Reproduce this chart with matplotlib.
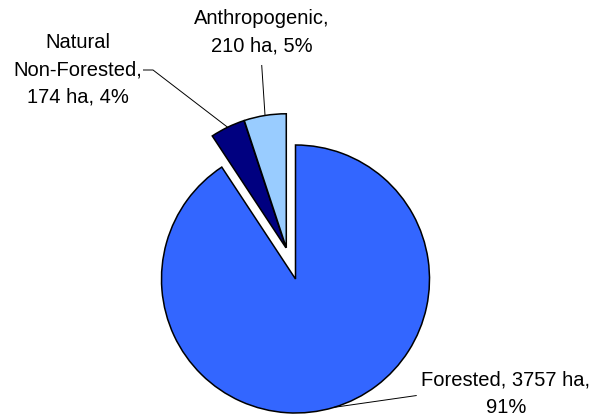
import numpy as np
import matplotlib
matplotlib.use("Agg")
import matplotlib.pyplot as plt

# Land cover areas (ha)
categories = ["Forested", "Natural Non-Forested", "Anthropogenic"]
areas_ha = [3757, 174, 210]
colors = ["#3366FF", "#000080", "#99CCFF"]

total = sum(areas_ha)
pcts = [round(100 * a / total) for a in areas_ha]
labels = [
    f"Forested, {areas_ha[0]} ha,\n{pcts[0]}%",
    f"Natural\nNon-Forested,\n{areas_ha[1]} ha, {pcts[1]}%",
    f"Anthropogenic,\n{areas_ha[2]} ha, {pcts[2]}%",
]

W, H, DPI = 594, 416, 100
fig = plt.figure(figsize=(W / DPI, H / DPI), dpi=DPI)
ax = fig.add_axes([0, 0, 1, 1])

# pixel layout helpers: pie centre and radius in figure pixels
R_PX = 134.0
CX, CY = 295.5, 279.0


def px(x, y):
    return np.array([(x - CX) / R_PX, (CY - y) / R_PX])


wedges, _ = ax.pie(
    areas_ha, colors=colors, startangle=90, counterclock=False, radius=1.0,
    wedgeprops=dict(edgecolor="black", linewidth=1.1),
)

# pull the two small slices out together along their shared bisector
group = wedges[1:]
g_lo = min(w.theta1 for w in group)
g_hi = max(w.theta2 for w in group)
g_mid = np.deg2rad((g_lo + g_hi) / 2)
explode_group = 0.235
explode_own = 0.008
for w in group:
    own = np.deg2rad((w.theta1 + w.theta2) / 2)
    off = explode_group * np.array([np.cos(g_mid), np.sin(g_mid)]) \
        + explode_own * np.array([np.cos(own), np.sin(own)])
    w.set_center(tuple(off))


def arc_point(w):
    mid = np.deg2rad((w.theta1 + w.theta2) / 2)
    c = np.array(w.center)
    return c + w.r * np.array([np.cos(mid), np.sin(mid)])


font = dict(family="Liberation Sans", size=14.5, color="black")
text_pos = [px(506, 394), px(77.5, 70), px(262, 32.5)]
for lab, pos in zip(labels, text_pos):
    ax.text(pos[0], pos[1], lab, ha="center", va="center",
            multialignment="center", linespacing=1.55, **font)

# leader lines
leader_starts = [
    [px(416.7, 395.5)],
    [px(143, 70), px(153, 70)],
    [px(261.7, 65)],
]
for w, pts in zip(wedges, leader_starts):
    path = np.vstack(pts + [arc_point(w)])
    ax.plot(path[:, 0], path[:, 1], color="black", lw=0.7, solid_capstyle="butt")

ax.set_xlim(-CX / R_PX, (W - CX) / R_PX)
ax.set_ylim(-(H - CY) / R_PX, CY / R_PX)
ax.set_aspect("equal")
ax.axis("off")

fig.savefig("out.png", dpi=DPI, facecolor="white")
